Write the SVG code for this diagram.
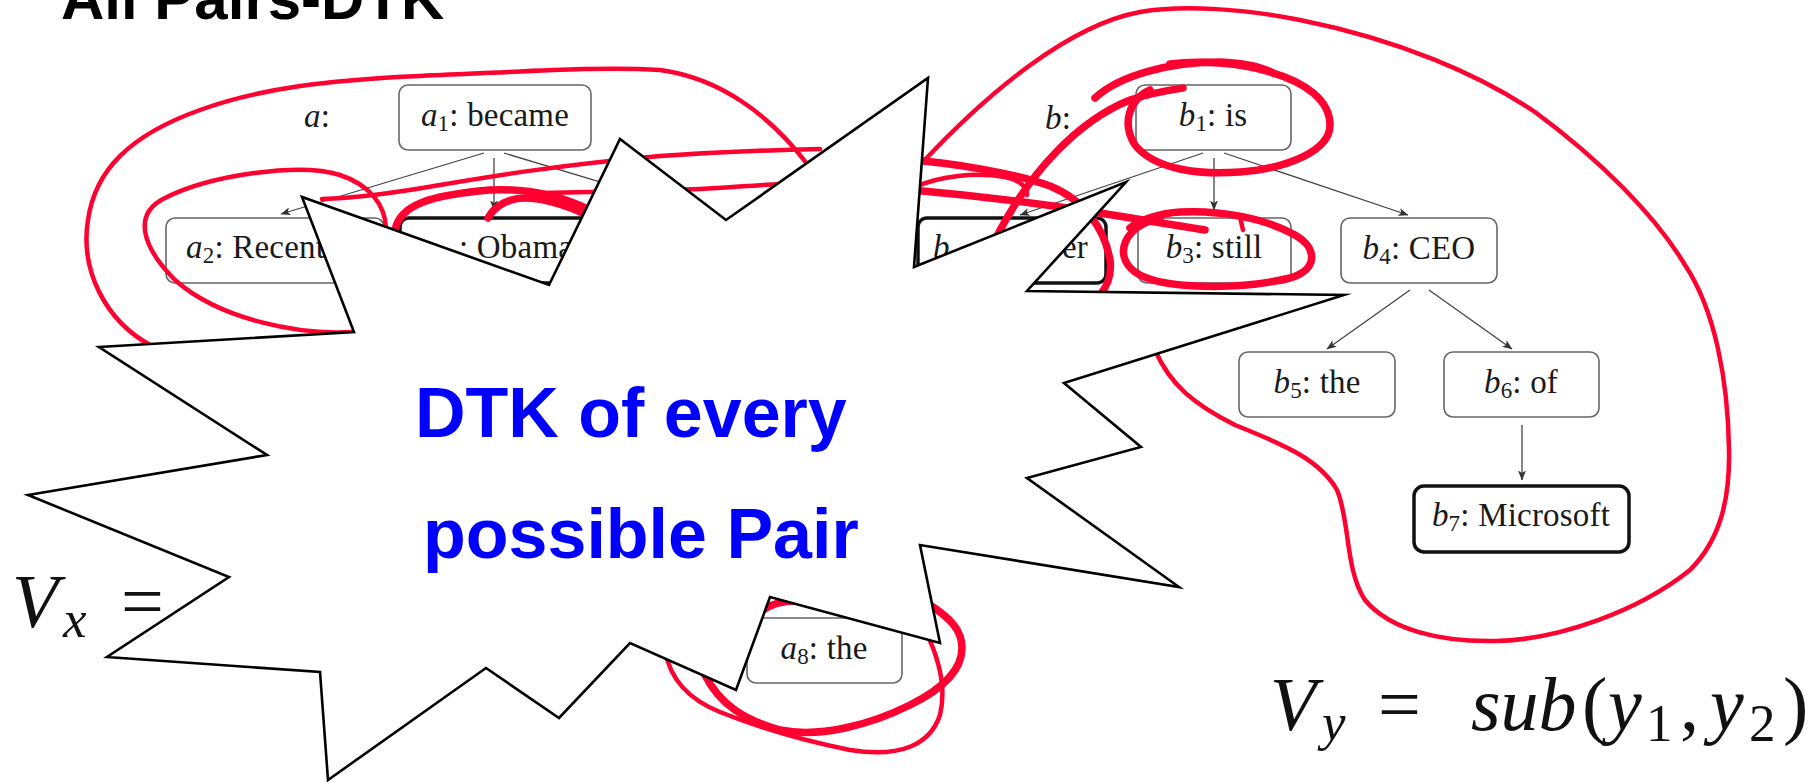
<svg xmlns="http://www.w3.org/2000/svg" width="1817" height="782" viewBox="0 0 1817 782">
<defs>
<style>
.box{fill:#fff;stroke:#666;stroke-width:1.6}
.bold{fill:#fff;stroke:#111;stroke-width:3.5}
.t{font-family:"Liberation Serif","Times New Roman",serif;font-size:33px;fill:#1a1a1a;letter-spacing:0.2px}
.i{font-style:italic}
.s{font-size:23px}
.e{stroke:#444;stroke-width:1.3;fill:none;marker-end:url(#ah)}
.r{fill:none;stroke:#ff0030;stroke-width:4.5;stroke-linecap:round;stroke-linejoin:round}
.rt{fill:none;stroke:#ff0030;stroke-width:7.5;stroke-linecap:round;stroke-linejoin:round}
.m{font-family:"Liberation Serif","Times New Roman",serif;font-size:76px;fill:#111}
.ms{font-family:"Liberation Serif","Times New Roman",serif;font-size:53px;fill:#111}
.blue{font-family:"Liberation Sans",Arial,sans-serif;font-weight:bold;font-size:70px;fill:#0000ff}
</style>
<marker id="ah" viewBox="0 0 10 8" refX="9.5" refY="4" markerWidth="10" markerHeight="8" markerUnits="userSpaceOnUse" orient="auto"><path d="M0,0 L10,4 L0,8 L2.5,4 z" fill="#333"/></marker>
</defs>
<rect width="1817" height="782" fill="#fff"/>

<text x="61" y="19" font-family="Liberation Sans, Arial, sans-serif" font-weight="bold" font-size="60" fill="#000">All Pairs-DTK</text>

<g id="labels">
<text class="t" x="304" y="127"><tspan class="i">a</tspan>:</text>
<text class="t" x="1045" y="129"><tspan class="i">b</tspan>:</text>
</g>

<g id="connectors">
<path class="e" d="M484,153 L281,214"/>
<path class="e" d="M494,158 L494,210"/>
<path class="e" d="M504,153 L700,212"/>
<path class="e" d="M1203,153 L1020,215"/>
<path class="e" d="M1214,158 L1214,210"/>
<path class="e" d="M1224,153 L1408,215"/>
<path class="e" d="M1410,290 L1327,349"/>
<path class="e" d="M1429,290 L1512,349"/>
<path class="e" d="M1522,425 L1522,480"/>
</g>

<g id="a1"><rect class="box" x="399" y="85" width="192" height="65" rx="9"/><text class="t" x="495" y="126" text-anchor="middle"><tspan class="i">a</tspan><tspan class="s" dy="5">1</tspan><tspan dy="-5">: became</tspan></text></g>
<g id="a2"><rect class="box" x="166" y="218" width="218" height="65" rx="9"/><text class="t" x="186" y="258"><tspan class="i">a</tspan><tspan class="s" dy="5">2</tspan><tspan dy="-5">: Recent</tspan></text></g>
<g id="a3"><rect class="bold" x="400" y="218" width="196" height="65" rx="9"/><text class="t" x="459" y="258">: Obama</text></g>
<g id="a8"><rect class="box" x="747" y="618" width="155" height="65" rx="9"/><text class="t" x="824" y="659" text-anchor="middle"><tspan class="i">a</tspan><tspan class="s" dy="5">8</tspan><tspan dy="-5">: the</tspan></text></g>
<g id="b1"><rect class="box" x="1136" y="85" width="155" height="65" rx="9"/><text class="t" x="1213" y="126" text-anchor="middle"><tspan class="i">b</tspan><tspan class="s" dy="5">1</tspan><tspan dy="-5">: is</tspan></text></g>
<g id="b2"><rect class="bold" x="918" y="218" width="188" height="65" rx="9"/><text class="t i" x="933" y="258">b</text><text class="t" x="1062" y="258">er</text></g>
<g id="b3"><rect class="box" x="1138" y="218" width="153" height="65" rx="9"/><text class="t" x="1214" y="258" text-anchor="middle"><tspan class="i">b</tspan><tspan class="s" dy="5">3</tspan><tspan dy="-5">: still</tspan></text></g>
<g id="b4"><rect class="box" x="1341" y="218" width="156" height="65" rx="9"/><text class="t" x="1419" y="259" text-anchor="middle"><tspan class="i">b</tspan><tspan class="s" dy="5">4</tspan><tspan dy="-5">: CEO</tspan></text></g>
<g id="b5"><rect class="box" x="1239" y="352" width="156" height="65" rx="9"/><text class="t" x="1317" y="393" text-anchor="middle"><tspan class="i">b</tspan><tspan class="s" dy="5">5</tspan><tspan dy="-5">: the</tspan></text></g>
<g id="b6"><rect class="box" x="1444" y="352" width="155" height="65" rx="9"/><text class="t" x="1521" y="393" text-anchor="middle"><tspan class="i">b</tspan><tspan class="s" dy="5">6</tspan><tspan dy="-5">: of</tspan></text></g>
<g id="b7"><rect class="bold" x="1414" y="486" width="215" height="66" rx="10"/><text class="t" x="1521" y="526" text-anchor="middle"><tspan class="i">b</tspan><tspan class="s" dy="5">7</tspan><tspan dy="-5">: Microsoft</tspan></text></g>

<g id="equations">
<text class="m i" x="12" y="627">V</text><text class="ms i" x="63" y="637">x</text><text class="m" x="121" y="627">=</text>
<text class="m i" x="1270" y="730">V</text><text class="ms i" x="1322" y="740">y</text><text class="m" x="1378" y="730">=</text>
<text class="m i" x="1471" y="730">sub</text><text class="m" x="1582" y="730">(</text><text class="m i" x="1608" y="730">y</text><text class="ms" x="1646" y="741">1</text><text class="m" x="1680" y="730">,</text><text class="m i" x="1710" y="730">y</text><text class="ms" x="1749" y="741">2</text><text class="m" x="1783" y="730">)</text>
</g>

<g id="annotations">
<path class="r" d="M150,345 C105,320 80,270 88,220 C95,170 130,135 200,110 C260,88 330,80 420,76 C520,72 600,66 660,70 C720,78 770,115 808,165"/>
<path class="r" d="M352,332 C300,335 220,320 175,280 C145,250 130,215 165,198 C210,175 300,162 340,175 C370,185 385,205 386,228"/>
<path class="r" d="M322,199 C360,198 400,192 440,185 C500,175 560,165 660,156 C720,152 770,150 820,149"/>
<path class="r" d="M540,193 C600,192 650,191 700,189 C740,187 780,183 830,182"/>
<path class="rt" d="M395,230 C400,205 430,195 490,190 C530,188 565,198 590,210"/>
<path class="rt" d="M488,218 C495,205 510,198 525,198 C545,198 565,205 585,214"/>
<path class="r" d="M1155,350 C1170,385 1195,405 1235,425 C1285,445 1320,460 1337,490 C1350,520 1345,570 1365,600 C1390,630 1440,642 1495,641 C1560,640 1640,610 1690,570 C1720,540 1730,500 1729,450 C1728,380 1715,310 1685,265 C1655,215 1600,160 1535,112 C1480,75 1400,40 1300,20 C1240,8 1180,5 1140,12 C1070,25 990,90 920,165"/>
<path class="rt" d="M912,160 C950,163 1010,172 1050,186 C1085,200 1105,230 1110,260 C1112,275 1108,285 1100,295"/>
<path class="r" d="M915,187 C940,176 975,172 1005,177 C1020,180 1028,188 1027,195"/>
<path class="rt" d="M912,190 C980,196 1050,205 1100,213 C1150,221 1180,226 1205,230"/>
<path class="rt" d="M995,240 C1030,170 1080,120 1130,100 C1150,93 1170,90 1183,88"/>
<path class="rt" d="M1095,98 C1120,75 1170,62 1220,62 C1245,63 1262,67 1273,73"/>
<path class="rt" d="M1150,90 C1128,100 1122,125 1135,145 C1155,170 1200,175 1240,172 C1290,168 1330,150 1330,125 C1330,100 1305,82 1270,72 C1240,63 1200,60 1170,64"/>
<path class="rt" d="M1160,218 C1125,225 1112,255 1135,272 C1160,290 1240,290 1290,278 C1318,270 1318,248 1295,235 C1265,218 1220,210 1180,212 C1160,213 1140,220 1130,228"/>
<path class="r" d="M1240,217 L1243,230"/>
<path class="r" d="M665,650 C670,680 690,700 720,712 C760,728 800,740 850,750 C900,758 930,745 940,715 C946,690 940,660 925,630"/>
<path class="rt" d="M705,675 C720,705 745,720 780,730 C820,738 870,725 910,705 C945,688 962,668 962,648 C962,630 950,618 930,605"/>
<path class="rt" d="M760,612 C775,600 800,598 830,605"/>
</g>

<g id="starburst">
<polygon points="99,347 354,332 302,197 549,285 620,139 726,220 928,78 914,267 1126,182 1027,291 1344,295 1064,383 1141,447 1027,478 1179,587 920,545 940,643 770,597 736,690 630,643 559,718 486,668 328,780 320,672 107,657 229,577 28,495 267,455" fill="#fff" stroke="#000" stroke-width="2.6" stroke-linejoin="miter" stroke-miterlimit="20"/>
<text class="blue" x="415" y="437">DTK of every</text>
<text class="blue" x="423" y="558">possible Pair</text>
</g>
</svg>
